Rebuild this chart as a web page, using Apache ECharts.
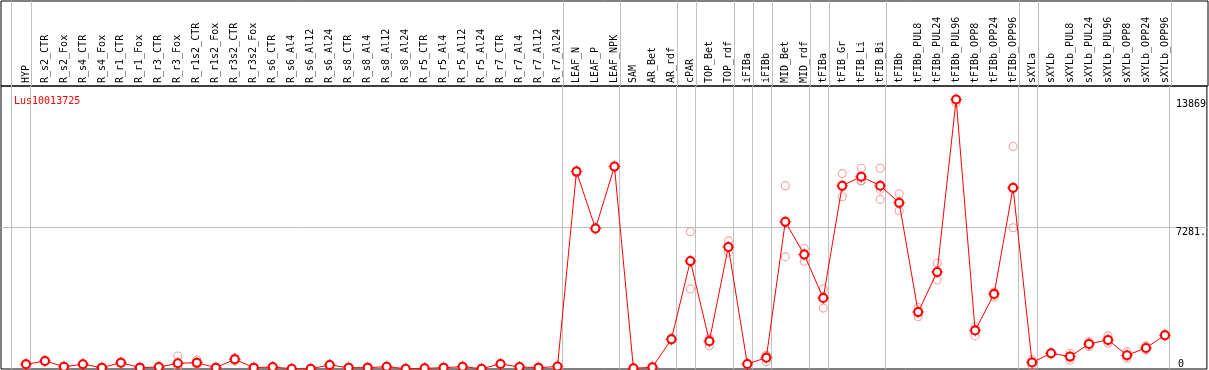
<!DOCTYPE html>
<html>
<head>
<meta charset="utf-8">
<script src="https://cdn.jsdelivr.net/npm/echarts@6/dist/echarts.min.js"></script>
<style>
  html, body { margin: 0; padding: 0; background: #fff; }
  #chart { width: 1209px; height: 370px; }
</style>
</head>
<body>
<div id="chart"></div>
<script>
const categories = ['HYP','R_s2_CTR','R_s2_Fox','R_s4_CTR','R_s4_Fox','R_r1_CTR','R_r1_Fox','R_r3_CTR','R_r3_Fox',
  'R_r1s2_CTR','R_r1s2_Fox','R_r3s2_CTR','R_r3s2_Fox','R_s6_CTR','R_s6_Al4','R_s6_Al12','R_s6_Al24',
  'R_s8_CTR','R_s8_Al4','R_s8_Al12','R_s8_Al24','R_r5_CTR','R_r5_Al4','R_r5_Al12','R_r5_Al24',
  'R_r7_CTR','R_r7_Al4','R_r7_Al12','R_r7_Al24','LEAF_N','LEAF_P','LEAF_NPK','SAM','AR_Bet','AR_rdf',
  'cPAR','TOP_Bet','TOP_rdf','iFIBa','iFIBb','MID_Bet','MID_rdf','tFIBa','tFIB_Gr','tFIB_Li','tFIB_Bi',
  'tFIBb','tFIBb_PUL8','tFIBb_PUL24','tFIBb_PUL96','tFIBb_OPP8','tFIBb_OPP24','tFIBb_OPP96',
  'sXYLa','sXYLb','sXYLb_PUL8','sXYLb_PUL24','sXYLb_PUL96','sXYLb_OPP8','sXYLb_OPP24','sXYLb_OPP96'];

const meanValues = [243,413,120,243,69,327,69,100,292,
  327,69,499,69,100,17,17,206,
  69,69,120,17,34,69,120,17,
  260,100,69,125,10158,7230,10416,36,88,1534,
  5562,1430,6284,258,585,7575,5887,3651,9434,9899,9434,
  8557,2928,4994,13869,1978,3857,9331,
  330,811,637,1291,1498,706,1084,1740];

const rep1 = [210,380,100,220,55,300,60,90,671,
  465,60,585,60,90,10,10,180,
  60,60,105,10,25,60,105,10,
  240,90,60,115,10100,7200,10380,30,80,1480,
  7059,1585,6594,240,706,9434,6197,4115,10054,10328,10328,
  9021,3166,5458,13869,2184,3961,11449,
  170,780,811,1410,1704,895,1188,1700];
const rep2 = [243,413,120,243,69,327,69,100,110,
  243,69,413,69,100,17,17,206,
  69,69,120,17,34,69,120,17,
  260,100,69,125,10158,7230,10416,36,88,1534,
  4115,1204,6006,258,379,5768,5541,3134,8867,9672,9243,
  8144,2685,4580,13700,1704,3703,7266,
  346,811,465,1152,1462,550,981,1740];
const rep3 = [280,450,140,265,85,360,80,115,95,
  273,78,499,78,110,24,24,232,
  78,78,135,24,43,78,135,24,
  280,110,78,135,10216,7260,10450,42,96,1590,
  5512,1500,6252,276,670,7523,5923,3704,9381,9697,8727,
  8506,2933,4944,13869,2046,3907,9278,
  474,842,635,1311,1328,673,1083,1780];

// group divider positions (in category units)
const groupDividers = [-0.79, 0.25, 28.25, 31.25, 34.25, 35.25, 37.25, 38.25, 39.25, 41.25, 42.25, 45.25, 52.25, 53.25, 60.25];

const yAxisMax = 14562.45;
const yLabelValues = [7281.225, 13869];
const yLabelTexts = ['7281.', '13869'];

const X_MIN = -25 / 19;
const X_MAX = 1182 / 19;
const FONT = 'DejaVu Sans Mono';

const repData = [];
for (let i = 0; i < categories.length; i++) {
  repData.push([i, rep1[i]], [i, rep2[i]], [i, rep3[i]]);
}
const meanData = meanValues.map((v, i) => [i, v]);

const dividerLine = {
  symbol: 'none',
  silent: true,
  animation: false,
  label: { show: false },
  lineStyle: { color: '#c0c0c0', width: 1, type: 'solid' },
  data: groupDividers.map(x => ({ xAxis: x }))
};

const tickPath = 'path://M5.5,0H6.5V2.2H5.5Z M5.5,9.8H6.5V12H5.5Z M0,5.5H2.2V6.5H0Z M9.8,5.5H12V6.5H9.8Z';

const chart = echarts.init(document.getElementById('chart'), null, { renderer: 'canvas' });
chart.setOption({
  animation: false,
  backgroundColor: '#fff',
  title: {
    text: 'Lus10013725', left: 9, top: 91,
    textStyle: { color: '#ff0000', fontSize: 10, fontFamily: FONT, fontWeight: 'normal' }
  },
  grid: [
    { left: 1, right: 1, top: 1, height: 85, show: true, borderColor: '#000', borderWidth: 1 },
    { left: 1, right: 1, top: 86, bottom: 1, show: true, borderColor: '#000', borderWidth: 1 }
  ],
  xAxis: [
    { gridIndex: 0, type: 'value', min: X_MIN, max: X_MAX, show: false },
    {
      gridIndex: 1, type: 'value', min: X_MIN, max: X_MAX, position: 'top',
      axisLine: { show: false }, axisTick: { show: false }, splitLine: { show: false },
      axisLabel: {
        customValues: categories.map((c, i) => i),
        formatter: v => categories[Math.round(v)] || '',
        rotate: 90, margin: 3, fontSize: 10, fontFamily: FONT, color: '#000'
      }
    }
  ],
  yAxis: [
    { gridIndex: 0, type: 'value', min: 0, max: 1, show: false },
    {
      gridIndex: 1, type: 'value', min: 0, max: yAxisMax, interval: yAxisMax / 2, position: 'right',
      axisLine: { show: false }, axisTick: { show: false },
      splitLine: { show: true, showMinLine: false, showMaxLine: false, lineStyle: { color: '#c0c0c0', width: 1 } },
      axisLabel: {
        inside: true, margin: 31, align: 'left', customValues: yLabelValues,
        formatter: v => {
          let best = 0;
          yLabelValues.forEach((t, k) => { if (Math.abs(t - v) < Math.abs(yLabelValues[best] - v)) best = k; });
          return yLabelTexts[best];
        },
        verticalAlign: 'top', fontSize: 10, fontFamily: FONT, color: '#000'
      }
    },
    {
      gridIndex: 1, type: 'value', min: 0, max: yAxisMax, position: 'right',
      axisLine: { show: false }, axisTick: { show: false }, splitLine: { show: false },
      axisLabel: {
        inside: true, margin: 29, align: 'left', customValues: [0], formatter: () => '0',
        verticalAlign: 'bottom', fontSize: 10, fontFamily: FONT, color: '#000'
      }
    }
  ],
  series: [
    {
      type: 'scatter', xAxisIndex: 0, yAxisIndex: 0, data: [], silent: true,
      markLine: dividerLine
    },
    {
      type: 'scatter', name: 'replicates', xAxisIndex: 1, yAxisIndex: 1, data: repData,
      symbol: 'circle', symbolSize: 8, silent: true, z: 2,
      itemStyle: { color: 'rgba(0,0,0,0)', borderColor: '#f08c8c', borderWidth: 1.1 },
      markLine: dividerLine
    },
    {
      type: 'line', name: 'Lus10013725', xAxisIndex: 1, yAxisIndex: 1, data: meanData,
      symbol: 'emptyCircle', symbolSize: 8, z: 5, silent: true,
      lineStyle: { color: '#ff0000', width: 1 },
      itemStyle: { color: '#ff0000', borderColor: '#ff0000', borderWidth: 1.1 }
    },
    {
      type: 'scatter', xAxisIndex: 1, yAxisIndex: 1, data: meanData,
      symbol: tickPath, symbolSize: 12, z: 6, silent: true,
      itemStyle: { color: '#ff0000' }
    }
  ]
});
</script>
</body>
</html>
